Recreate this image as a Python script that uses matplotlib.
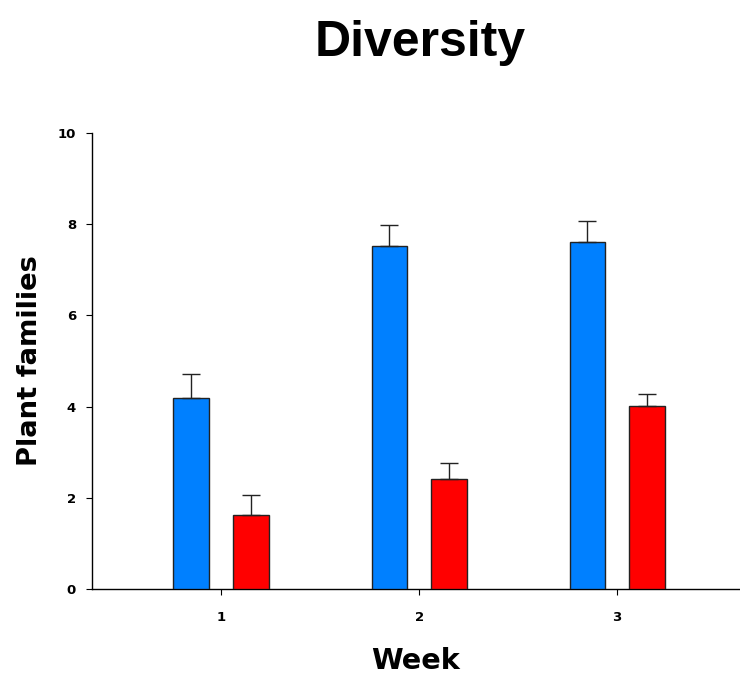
import matplotlib
matplotlib.use("Agg")
import matplotlib.pyplot as plt
import numpy as np

weeks = [1, 2, 3]
blue_vals = [4.20, 7.51, 7.61]
blue_err = [0.52, 0.46, 0.46]
red_vals = [1.62, 2.41, 4.01]
red_err = [0.45, 0.36, 0.26]
yticks = [0, 2, 4, 6, 8, 10]

fig = plt.figure(figsize=(7.4, 6.77), dpi=100)
ax = fig.add_axes([92/740, 1 - 589.3/677, 1 - 92/740, (589.3 - 132.7)/677])

x = np.array(weeks, dtype=float)
w = 0.18
off = 0.15
ekw = dict(ecolor="#222222", elinewidth=1.0, capsize=6.5, capthick=1.0)
ax.bar(x - off, blue_vals, width=w, color="#0080FF", edgecolor="#222222", linewidth=1.0,
       yerr=[np.zeros(3), blue_err], error_kw=ekw, zorder=3)
ax.bar(x + off, red_vals, width=w, color="#FF0000", edgecolor="#222222", linewidth=1.0,
       yerr=[np.zeros(3), red_err], error_kw=ekw, zorder=3)

ax.set_xlim(0.349, 3.62)
ax.set_ylim(0, 10)
ax.set_xticks(weeks)
ax.set_xticklabels([str(v) for v in weeks])
ax.set_yticks(yticks)
ax.set_yticklabels([str(v) for v in yticks])
for s in ["top", "right"]:
    ax.spines[s].set_visible(False)
for s in ["left", "bottom"]:
    ax.spines[s].set_linewidth(1.0)
ax.tick_params(direction="out", length=4.5, width=0.8, labelsize=9.5)
ax.tick_params(axis="y", pad=7)
ax.tick_params(axis="x", pad=11)
for lab in ax.get_xticklabels() + ax.get_yticklabels():
    lab.set_fontweight("bold")
    lab.set_family("DejaVu Sans")

ax.set_xlabel("Week", fontsize=20.7, fontweight="bold", family="DejaVu Sans", labelpad=16.5)
ax.set_ylabel("Plant families", fontsize=19.7, fontweight="bold", family="DejaVu Sans", labelpad=10.5)
fig.text(420/740, 1 - 43/677, "Diversity", ha="center", va="center",
         fontsize=36, fontweight="bold", family="Liberation Sans")

fig.savefig("out.png", dpi=100)
